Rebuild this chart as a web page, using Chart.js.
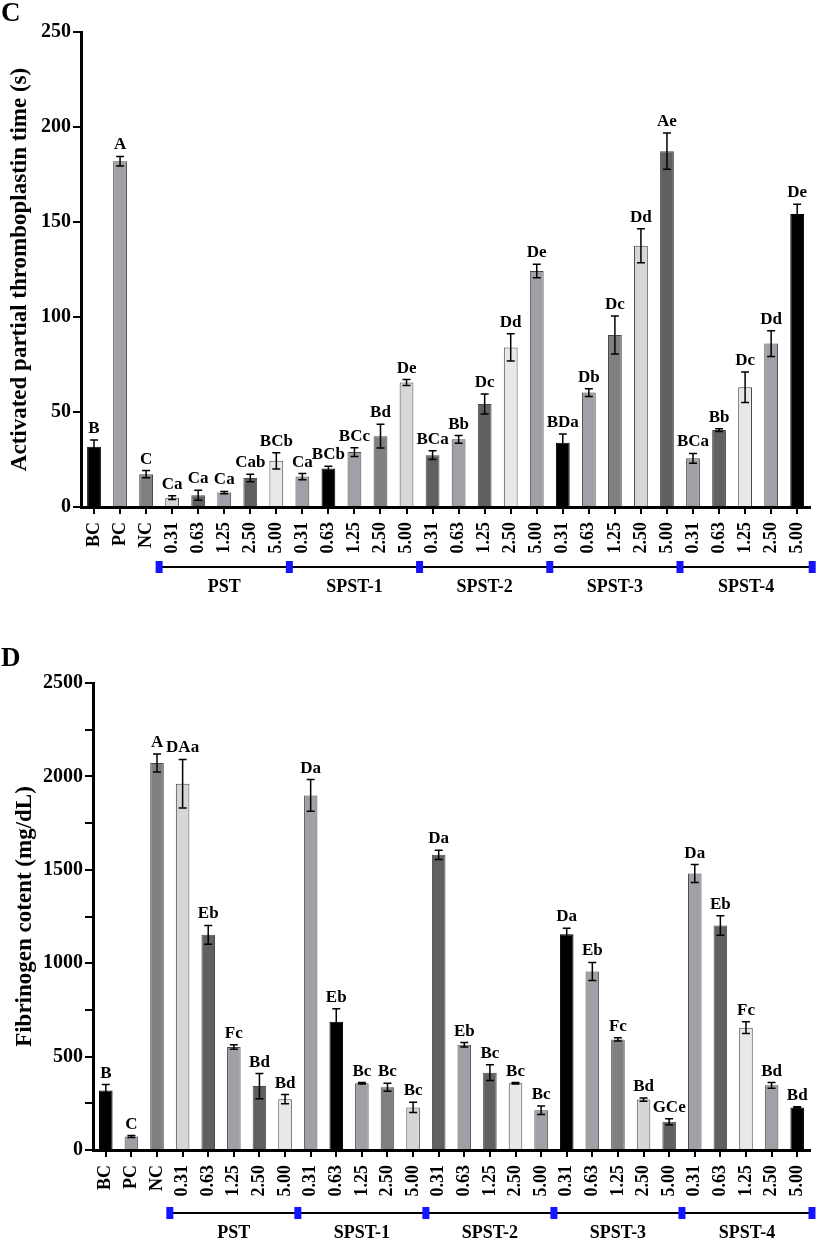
<!DOCTYPE html>
<html>
<head>
<meta charset="utf-8">
<script src="https://cdn.jsdelivr.net/npm/chart.js@4.4.1/dist/chart.umd.min.js"></script>
<style>
  body { margin: 0; background: #fff; width: 827px; height: 1240px; position: relative; overflow: hidden;
         font-family: "Liberation Serif", "Times New Roman", serif; }
  canvas { position: absolute; left: 0; }
  .panel { position: absolute; left: 1px; font-weight: bold; font-size: 27px; line-height: 1; z-index: 2; }
</style>
</head>
<body>
<canvas id="apttChart" width="827" height="615" style="top:0"></canvas>
<canvas id="fibChart" width="827" height="615" style="top:625px"></canvas>
<div class="panel" style="top:-1px">C</div>
<div class="panel" style="top:644px">D</div>
<script>
const categories = ['BC', 'PC', 'NC',
  '0.31', '0.63', '1.25', '2.50', '5.00',
  '0.31', '0.63', '1.25', '2.50', '5.00',
  '0.31', '0.63', '1.25', '2.50', '5.00',
  '0.31', '0.63', '1.25', '2.50', '5.00',
  '0.31', '0.63', '1.25', '2.50', '5.00'];
const groups = ['PST', 'SPST-1', 'SPST-2', 'SPST-3', 'SPST-4'];

// C: activated partial thromboplastin time (s)
const apttMean = [31.7, 182, 17.3, 4.9, 6.2, 7.6, 15.3, 24.3, 16, 20.3, 28.9, 37.3, 65.5,
  27.3, 35.6, 54.2, 84, 124.2, 33.8, 60.2, 90.5, 137.5, 187.3, 25.6, 40.5, 63, 86, 154.2];
const apttSd = [3.5, 2.5, 1.9, 1, 2.6, 0.6, 2, 4.3, 1.6, 1.2, 2.3, 6.2, 1.6,
  2.3, 2, 5.3, 7.2, 3.6, 4.6, 2, 10, 9, 9.5, 2.6, 0.7, 8, 6.8, 5.2];
const apttLetters = ['B', 'A', 'C', 'Ca', 'Ca', 'Ca', 'Cab', 'BCb', 'Ca', 'BCb', 'BCc', 'Bd', 'De',
  'BCa', 'Bb', 'Dc', 'Dd', 'De', 'BDa', 'Db', 'Dc', 'Dd', 'Ae', 'BCa', 'Bb', 'Dc', 'Dd', 'De'];

// D: fibrinogen content (mg/dL)
const fibMean = [318, 72, 2072, 1961, 1152, 552, 342, 272, 1898, 686, 357, 336, 228,
  1580, 563, 414, 357, 213, 1155, 956, 592, 270, 151, 1480, 1202, 655, 346, 228];
const fibSd = [32, 5, 48, 130, 50, 12, 67, 25, 85, 70, 4, 22, 27,
  25, 12, 42, 4, 23, 32, 48, 9, 9, 16, 48, 52, 32, 15, 3];
const fibLetters = ['B', 'C', 'A', 'DAa', 'Eb', 'Fc', 'Bd', 'Bd', 'Da', 'Eb', 'Bc', 'Bc', 'Bc',
  'Da', 'Eb', 'Bc', 'Bc', 'Bc', 'Da', 'Eb', 'Fc', 'Bd', 'GCe', 'Da', 'Eb', 'Fc', 'Bd', 'Bd'];

const K = '#000000', G1 = '#a0a0a6', G2 = '#808080', G3 = '#606060', L1 = '#d6d6d6', L2 = '#e8e8e8';
const barColors = [K, G1, G2,
  L1, G3, G1, G3, L2,
  G1, K, G1, G2, L1,
  G3, G1, G3, L2, G1,
  K, G1, G2, L1, G3,
  G1, G3, L2, G1, K];

const serif = '"Liberation Serif", "Times New Roman", serif';

const annotate = {
  id: 'annotate',
  afterDatasetsDraw(chart, args, opts) {
    const ctx = chart.ctx, x = chart.scales.x, y = chart.scales.y;
    ctx.save();
    ctx.strokeStyle = '#000';
    ctx.fillStyle = '#000';
    ctx.lineWidth = 1.5;
    ctx.font = 'bold 17px ' + serif;
    ctx.textAlign = 'center';
    ctx.textBaseline = 'alphabetic';
    opts.means.forEach((m, i) => {
      const px = x.getPixelForValue(i);
      const top = y.getPixelForValue(m + opts.sds[i]);
      const bot = y.getPixelForValue(Math.max(m - opts.sds[i], 0));
      ctx.beginPath();
      ctx.moveTo(px, top); ctx.lineTo(px, bot);
      ctx.moveTo(px - 4, top); ctx.lineTo(px + 4, top);
      ctx.moveTo(px - 4, bot); ctx.lineTo(px + 4, bot);
      ctx.stroke();
      ctx.fillText(opts.letters[i], px, top - 7);
    });

    // group brackets under the axis
    const half = (x.getPixelForValue(1) - x.getPixelForValue(0)) / 2;
    const edges = groups.map((g, k) => x.getPixelForValue(3 + 5 * k) - half);
    edges.push(x.getPixelForValue(categories.length - 1) + half + 2);
    const lineY = chart.chartArea.bottom + opts.bracketGap;
    ctx.lineWidth = 2;
    ctx.beginPath();
    ctx.moveTo(edges[0], lineY);
    ctx.lineTo(edges[edges.length - 1], lineY);
    ctx.stroke();
    ctx.fillStyle = '#1414ff';
    edges.forEach(e => ctx.fillRect(e - 3.5, lineY - 6, 7, 12));
    ctx.fillStyle = '#000';
    ctx.font = 'bold 18px ' + serif;
    ctx.textBaseline = 'middle';
    groups.forEach((g, k) => ctx.fillText(g, (edges[k] + edges[k + 1]) / 2, lineY + opts.labelGap));
    ctx.restore();
  }
};

function makeChart(id, means, sds, letters, cfg) {
  return new Chart(document.getElementById(id), {
    type: 'bar',
    data: {
      labels: categories,
      datasets: [{
        data: means,
        backgroundColor: barColors,
        borderColor: barColors.map(c => c === K ? K : '#4a4a4a'),
        borderWidth: 1,
        barPercentage: 0.53,
        categoryPercentage: 1
      }]
    },
    plugins: [annotate],
    options: {
      responsive: false,
      animation: false,
      layout: { padding: { top: cfg.top, right: 12, left: 0, bottom: cfg.bottom } },
      plugins: {
        legend: { display: false },
        tooltip: { enabled: false },
        annotate: { means: means, sds: sds, letters: letters, bracketGap: cfg.bracketGap, labelGap: 20 }
      },
      scales: {
        x: {
          afterFit: s => { s.height = 60; },
          border: { display: true, color: '#000', width: 3 },
          grid: { drawOnChartArea: false, offset: false, color: '#000', lineWidth: 2, tickLength: 7 },
          ticks: {
            autoSkip: false, maxRotation: 90, minRotation: 90, padding: 8, color: '#000',
            font: { family: serif, size: 18, weight: 'bold' }
          }
        },
        y: {
          min: 0, max: cfg.max,
          afterFit: s => { s.width = cfg.axisX; },
          border: { display: true, color: '#000', width: 3 },
          grid: { drawOnChartArea: false, color: '#000', lineWidth: 2, tickLength: 8 },
          ticks: {
            stepSize: cfg.step, padding: 2, color: '#000',
            font: { family: serif, size: 20, weight: 'bold' },
            callback: v => (v % cfg.labelEvery === 0 ? v : '')
          },
          title: {
            display: true, text: cfg.title, color: '#000',
            padding: { top: cfg.titlePad, bottom: 0 },
            font: { family: serif, size: 23, weight: 'bold' }
          }
        }
      }
    }
  });
}

makeChart('apttChart', apttMean, apttSd, apttLetters, {
  top: 32, bottom: 48, max: 250, step: 50, labelEvery: 50, axisX: 81, titlePad: 6,
  bracketGap: 60, title: 'Activated partial thromboplastin time (s)'
});

makeChart('fibChart', fibMean, fibSd, fibLetters, {
  top: 58, bottom: 30, max: 2500, step: 250, labelEvery: 500, axisX: 93, titlePad: 11,
  bracketGap: 63, title: 'Fibrinogen cotent (mg/dL)'
});
</script>
</body>
</html>
